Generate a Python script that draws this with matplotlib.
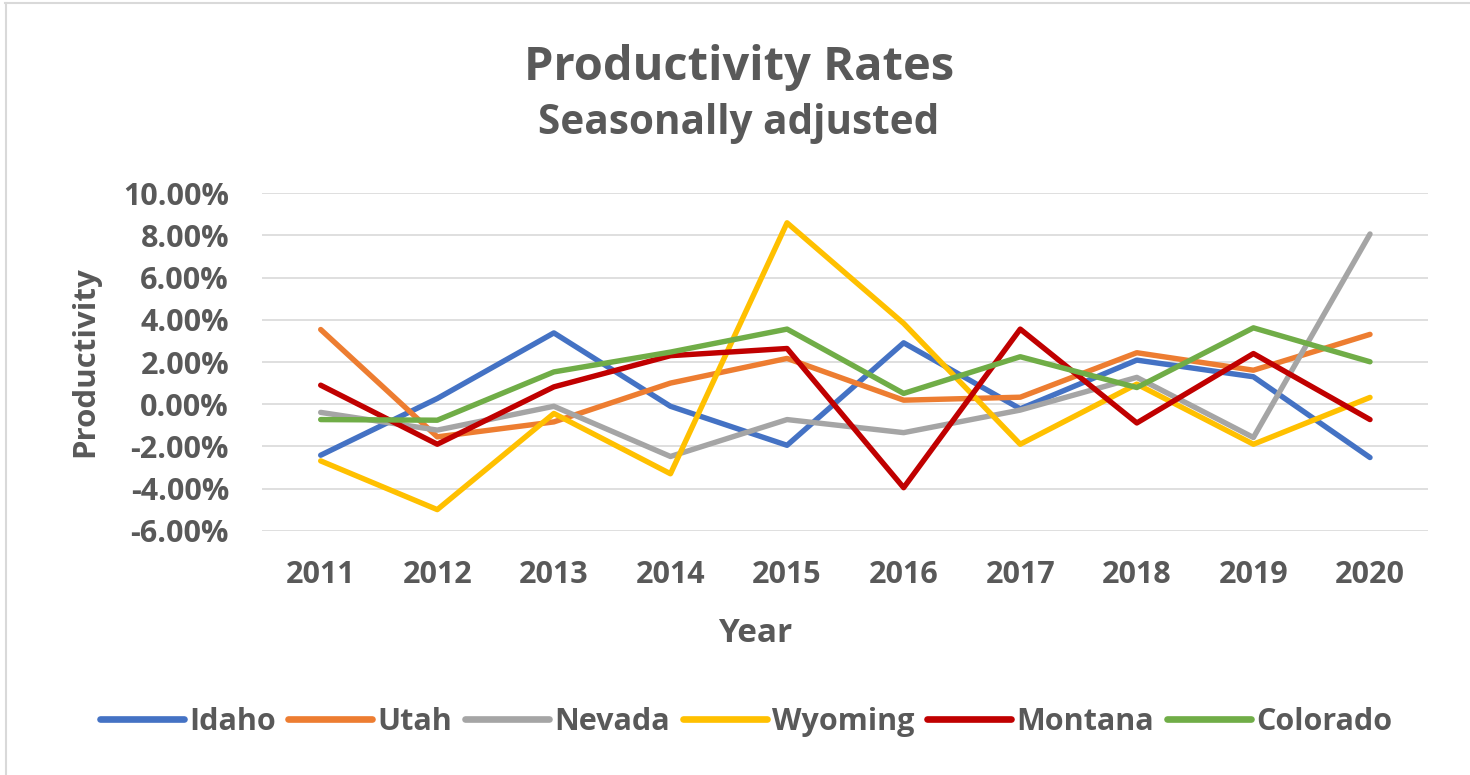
import matplotlib
matplotlib.use("Agg")
import matplotlib.pyplot as plt
from matplotlib.ticker import PercentFormatter
from matplotlib.lines import Line2D

years = ["2011", "2012", "2013", "2014", "2015", "2016", "2017", "2018", "2019", "2020"]
idaho = [-2.42, 0.27, 3.38, -0.10, -1.95, 2.91, -0.22, 2.09, 1.30, -2.53]
utah = [3.54, -1.55, -0.84, 1.00, 2.17, 0.19, 0.33, 2.44, 1.61, 3.31]
nevada = [-0.39, -1.23, -0.10, -2.48, -0.73, -1.35, -0.28, 1.27, -1.58, 8.07]
wyoming = [-2.69, -5.00, -0.44, -3.30, 8.60, 3.83, -1.90, 0.95, -1.90, 0.32]
montana = [0.90, -1.90, 0.82, 2.30, 2.64, -3.96, 3.56, -0.89, 2.40, -0.73]
colorado = [-0.73, -0.76, 1.53, 2.47, 3.56, 0.51, 2.25, 0.79, 3.62, 2.01]

series_names = ["Idaho", "Utah", "Nevada", "Wyoming", "Montana", "Colorado"]
series_values = [idaho, utah, nevada, wyoming, montana, colorado]
colors = ["#4472C4", "#ED7D31", "#A5A5A5", "#FFC000", "#C00000", "#70AD47"]

TXT = "#595959"
FONT = ["Open Sans", "DejaVu Sans"]
plt.rcParams["font.family"] = FONT
plt.rcParams["font.weight"] = "bold"
plt.rcParams["axes.unicode_minus"] = False

W, H = 1470, 775
fig = plt.figure(figsize=(W / 100, H / 100), dpi=100)
fig.patch.set_facecolor("white")

left, right, top, bottom = 262.4, 1428.3, 193.3, 530.7
ax = fig.add_axes([left / W, 1 - bottom / H, (right - left) / W, (bottom - top) / H])

x = list(range(len(years)))
for name, vals, c in zip(series_names, series_values, colors):
    ax.plot(x, vals, color=c, lw=3.9, label=name,
            solid_joinstyle="round", solid_capstyle="round")

ax.set_xlim(-0.5, len(years) - 0.5)
ax.set_ylim(-6, 10)
ax.set_yticks(range(-6, 11, 2))
ax.yaxis.set_major_formatter(PercentFormatter(xmax=100, decimals=2))
ax.set_xticks(x)
ax.set_xticklabels(years)
ax.grid(axis="y", color="#D9D9D9", lw=1.2)
ax.set_axisbelow(True)
for s in ax.spines.values():
    s.set_visible(False)
ax.tick_params(axis="both", length=0, labelsize=22, labelcolor=TXT)
ax.tick_params(axis="y", pad=24)
ax.tick_params(axis="x", pad=21)
for lab in ax.get_xticklabels() + ax.get_yticklabels():
    lab.set_fontweight("bold")

fig.text(739 / W, 1 - 80 / H, "Productivity Rates", ha="center", va="baseline",
         fontsize=33.8, fontweight="bold", color=TXT)
fig.text(739 / W, 1 - 134 / H, "Seasonally adjusted", ha="center", va="baseline",
         fontsize=29.2, fontweight="bold", color=TXT)
fig.text(85 / W, 1 - 362 / H, "Productivity", rotation=90, ha="center", va="center",
         fontsize=22.5, fontweight="bold", color=TXT)
fig.text(755 / W, 1 - 634 / H, "Year", ha="center", va="center",
         fontsize=24, fontweight="bold", color=TXT)

leg = fig.legend(loc="center", bbox_to_anchor=(746 / W, 1 - 722 / H), ncol=6,
                 frameon=False, fontsize=22, handlelength=2.75, handletextpad=0.17,
                 columnspacing=0.42, borderaxespad=0)
for t in leg.get_texts():
    t.set_color(TXT)
    t.set_fontweight("bold")
for h in leg.get_lines():
    h.set_linewidth(4.8)

# chart border
fig.add_artist(Line2D([5 / W, 1], [1 - 3 / H, 1 - 3 / H], color="#D9D9D9", lw=1.5))
fig.add_artist(Line2D([6 / W, 6 / W], [0, 1 - 3 / H], color="#D9D9D9", lw=1.5))

fig.savefig("out.png", dpi=100, facecolor="white")
